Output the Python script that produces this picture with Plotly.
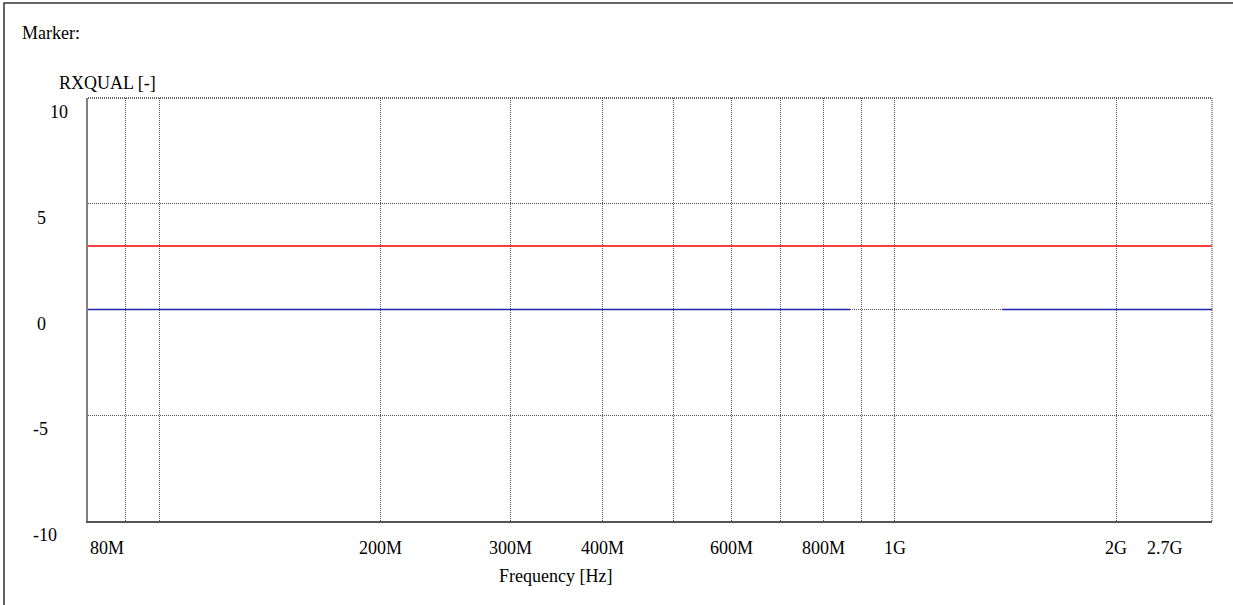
import numpy as np
import plotly.graph_objects as go

# Frequency sweep (Hz) and measured RXQUAL values
freq_red = [80e6, 200e6, 500e6, 1e9, 2e9, 2.7e9]
rxqual_red = [3, 3, 3, 3, 3, 3]

freq_blue = [80e6, 200e6, 500e6, 870e6, None, 1.4e9, 2e9, 2.7e9]
rxqual_blue = [0, 0, 0, 0, None, 0, 0, 0]

# Axis labelling
x_grid = [90e6, 100e6, 200e6, 300e6, 400e6, 500e6, 600e6, 700e6, 800e6, 900e6, 1e9, 2e9]
x_labels = {"80M": 80e6, "200M": 200e6, "300M": 300e6, "400M": 400e6,
            "600M": 600e6, "800M": 800e6, "1G": 1e9, "2G": 2e9, "2.7G": 2.7e9}
y_labels = [10, 5, 0, -5, -10]
y_label_px = {10: 59, 5: 41, 0: 41, -5: 40, -10: 45}

W, H = 1233, 605
L, R, T, B = 88, 1212, 98, 521
pw, ph = R - L, B - T

def px_x(px):
    return (px - L) / pw

def px_y(py):
    return (B - py) / ph

FONT = "Liberation Serif, Times New Roman, serif"
GRID = "#555555"

fig = go.Figure()
fig.add_trace(go.Scatter(x=freq_red, y=rxqual_red, mode="lines",
                         line=dict(color="#ff0000", width=1.5), hoverinfo="skip"))
fig.add_trace(go.Scatter(x=freq_blue, y=rxqual_blue, mode="lines",
                         line=dict(color="#2323b4", width=1.5), hoverinfo="skip",
                         connectgaps=False))

ann = []
for txt, f in x_labels.items():
    a = dict(x=np.log10(f), xref="x", y=px_y(548), yref="paper", text=txt,
             showarrow=False, font=dict(family=FONT, size=18, color="#000"),
             xanchor="center", yanchor="middle")
    if txt == "80M":
        a["xanchor"] = "left"
    if txt == "2.7G":
        a["xanchor"] = "right"
        a["xshift"] = -27
    ann.append(a)

for v in y_labels:
    ann.append(dict(x=px_x(y_label_px[v]), xref="paper", y=v, yref="y",
                    yshift=-14, text=str(v), showarrow=False,
                    font=dict(family=FONT, size=18, color="#000"),
                    xanchor="center", yanchor="middle"))

ann.append(dict(x=px_x(20), xref="paper", y=px_y(33), yref="paper", text="Marker:",
                showarrow=False, font=dict(family=FONT, size=18, color="#000"),
                xanchor="left", yanchor="middle"))
ann.append(dict(x=px_x(57), xref="paper", y=px_y(83), yref="paper", text="RXQUAL [-]",
                showarrow=False, font=dict(family=FONT, size=18, color="#000"),
                xanchor="left", yanchor="middle"))
ann.append(dict(x=px_x(555), xref="paper", y=px_y(576), yref="paper", text="Frequency [Hz]",
                showarrow=False, font=dict(family=FONT, size=18, color="#000"),
                xanchor="center", yanchor="middle"))

shapes = [
    # outer frame
    dict(type="rect", xref="paper", yref="paper",
         x0=px_x(4), x1=px_x(1250), y0=px_y(620), y1=px_y(3),
         line=dict(color="#333333", width=1.5), layer="below"),
    # dotted top and right plot edges
    dict(type="line", xref="paper", yref="paper", x0=0, x1=1, y0=1, y1=1,
         line=dict(color="#333333", width=1.5, dash="1px,1px")),
    dict(type="line", xref="paper", yref="paper", x0=1, x1=1, y0=0, y1=1,
         line=dict(color="#777777", width=1.5, dash="1px,1px")),
]

fig.update_layout(
    width=W, height=H,
    margin=dict(l=L, r=W - R, t=T, b=H - B, pad=0),
    paper_bgcolor="white", plot_bgcolor="white",
    showlegend=False,
    annotations=ann, shapes=shapes,
    xaxis=dict(type="log", range=[np.log10(80e6), np.log10(2.7e9)],
               tickvals=x_grid, showticklabels=False, ticks="",
               showgrid=True, gridcolor=GRID, gridwidth=1, griddash="1px,1px",
               showline=True, linecolor="#555555", linewidth=2,
               zeroline=False, fixedrange=True),
    yaxis=dict(range=[-10, 10], tickvals=[-5, 0, 5], showticklabels=False, ticks="",
               showgrid=True, gridcolor=GRID, gridwidth=1, griddash="1px,1px",
               showline=True, linecolor="#808080", linewidth=2,
               zeroline=False, fixedrange=True),
)

fig.write_html("out.html", config={"displayModeBar": False})
